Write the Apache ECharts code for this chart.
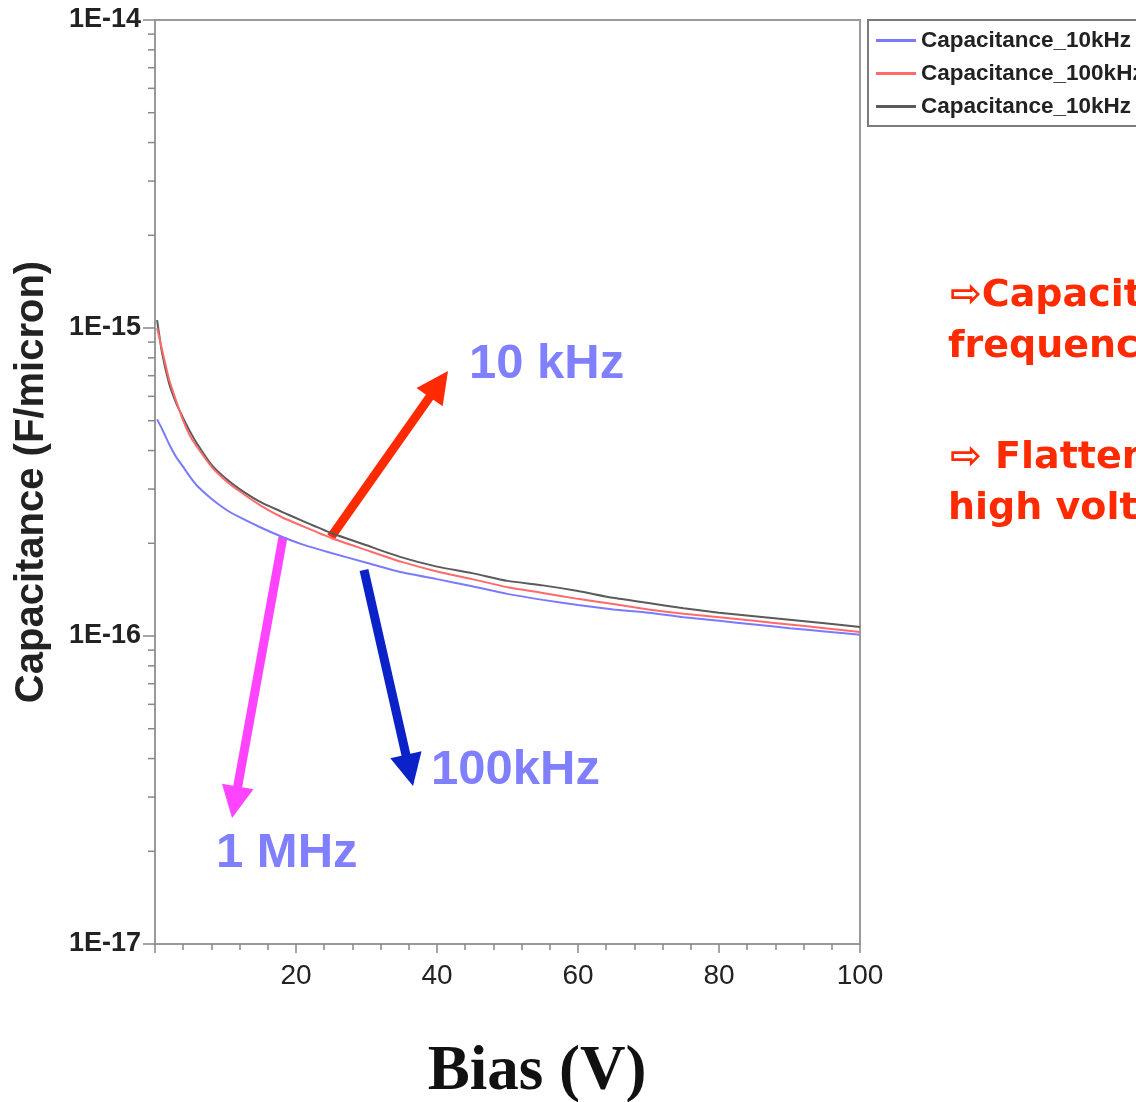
<!DOCTYPE html>
<html>
<head>
<meta charset="utf-8">
<script src="https://cdn.jsdelivr.net/npm/echarts@6/dist/echarts.min.js"></script>
<style>html,body{margin:0;padding:0;background:#fff;}#c{width:1136px;height:1102px;}</style>
</head>
<body>
<div id="c"></div>
<script>
// ---- data ----
const bias = [0.3, 1, 2, 3, 4, 5, 6, 8, 10, 12, 15, 18, 21, 25, 30, 35, 40, 45, 50, 55, 60, 65, 70, 75, 80, 85, 90, 95, 100];
const capBlue = [5.05e-16, 4.7e-16, 4.2e-16, 3.81e-16, 3.54e-16, 3.28e-16, 3.07e-16, 2.79e-16, 2.58e-16, 2.43e-16, 2.25e-16, 2.10e-16, 1.98e-16, 1.86e-16, 1.73e-16, 1.61e-16, 1.53e-16, 1.45e-16, 1.37e-16, 1.31e-16, 1.26e-16, 1.22e-16, 1.19e-16, 1.15e-16, 1.12e-16, 1.09e-16, 1.06e-16, 1.035e-16, 1.01e-16];
const capRed = [1.0e-15, 8.5e-16, 6.8e-16, 5.8e-16, 5.0e-16, 4.45e-16, 4.1e-16, 3.55e-16, 3.2e-16, 2.95e-16, 2.65e-16, 2.43e-16, 2.27e-16, 2.08e-16, 1.90e-16, 1.74e-16, 1.62e-16, 1.53e-16, 1.44e-16, 1.38e-16, 1.32e-16, 1.27e-16, 1.22e-16, 1.18e-16, 1.15e-16, 1.12e-16, 1.09e-16, 1.06e-16, 1.03e-16];
const capGray = [1.06e-15, 8.3e-16, 6.6e-16, 5.7e-16, 5.1e-16, 4.6e-16, 4.2e-16, 3.6e-16, 3.25e-16, 3.0e-16, 2.72e-16, 2.53e-16, 2.36e-16, 2.16e-16, 1.97e-16, 1.80e-16, 1.68e-16, 1.60e-16, 1.51e-16, 1.46e-16, 1.40e-16, 1.33e-16, 1.28e-16, 1.23e-16, 1.19e-16, 1.16e-16, 1.13e-16, 1.10e-16, 1.07e-16];
const seriesNames = ['Capacitance_10kHz', 'Capacitance_100kHz', 'Capacitance_10kHz\u200b'];
const yMinorTicks = [];
[1e-17, 1e-16, 1e-15].forEach(function (d) { for (let k = 2; k <= 9; k++) yMinorTicks.push(k * d); });

const chart = echarts.init(document.getElementById('c'));

function pairs(ys) { return bias.map(function (x, i) { return [x, ys[i]]; }); }

function arrow(x1, y1, x2, y2, color) {
  const dx = x2 - x1, dy = y2 - y1, L = Math.hypot(dx, dy);
  const ux = dx / L, uy = dy / L, px = -uy, py = ux;
  const hl = 32, hw = 16;
  const bx = x2 - ux * hl, by = y2 - uy * hl;
  return [
    { type: 'line', shape: { x1: x1, y1: y1, x2: bx + ux * 2, y2: by + uy * 2 }, style: { stroke: color, lineWidth: 9 } },
    { type: 'polygon', shape: { points: [[x2, y2], [bx + px * hw, by + py * hw], [bx - px * hw, by - py * hw]] }, style: { fill: color } }
  ];
}
function txt(t, x, y, size, color, family, weight, align) {
  return { type: 'text', style: { text: t, x: x, y: y, fontSize: size, fontWeight: weight || 'bold', fontFamily: family, fill: color, verticalAlign: 'middle', align: align || 'left' } };
}

const lineColors = ['#7a7aff', '#ff6a6a', '#5a5a5a'];

const option = {
  backgroundColor: '#fff',
  animation: false,
  grid: { left: 155, right: 276, top: 20, bottom: 158, show: true, borderColor: '#9a9a9a', borderWidth: 2, outerBoundsMode: 'none', containLabel: false },
  legend: {
    orient: 'vertical', left: 868, top: 20,
    padding: [9, 10, 8, 8], itemGap: 10,
    itemWidth: 40, itemHeight: 3, icon: 'rect',
    borderColor: '#7a7a7a', borderWidth: 2, backgroundColor: '#fff',
    data: seriesNames,
    formatter: function (n) { return n.replace('\u200b', ''); },
    textStyle: { fontFamily: 'Liberation Sans', fontWeight: 'bold', fontSize: 22.5, lineHeight: 22, color: '#222' }
  },
  xAxis: {
    type: 'value', min: 0, max: 100, interval: 20,
    axisLine: { lineStyle: { color: '#9a9a9a', width: 2 } },
    axisTick: { show: true, length: 9, lineStyle: { color: '#888', width: 1.5 } },
    minorTick: { show: true, splitNumber: 5, length: 6, lineStyle: { color: '#888', width: 1.5 } },
    splitLine: { show: false },
    axisLabel: { fontFamily: 'Liberation Sans', fontSize: 28, color: '#222', margin: 18, formatter: function (v) { return v === 0 ? '' : String(v); } }
  },
  yAxis: {
    type: 'log', min: 1e-17, max: 1e-14, logBase: 10,
    name: 'Capacitance (F/micron)', nameLocation: 'middle', nameGap: 103,
    nameTextStyle: { fontFamily: 'Liberation Sans', fontWeight: 'bold', fontSize: 40, color: '#222' },
    axisLine: { lineStyle: { color: '#9a9a9a', width: 2 } },
    axisTick: { show: true, length: 12, lineStyle: { color: '#888', width: 1.5 } },
    minorTick: { show: false },
    splitLine: { show: false },
    axisLabel: { fontFamily: 'Liberation Sans', fontWeight: 'bold', fontSize: 27, color: '#222', margin: 14,
      formatter: function (v) { return '1E' + Math.round(Math.log10(v)); } }
  },
  series: [
    { name: seriesNames[0], type: 'line', data: pairs(capBlue), showSymbol: false, smooth: 0.2, lineStyle: { color: lineColors[0], width: 2 }, itemStyle: { color: lineColors[0] }, z: 3 },
    { name: seriesNames[1], type: 'line', data: pairs(capRed), showSymbol: false, smooth: 0.2, lineStyle: { color: lineColors[1], width: 2 }, itemStyle: { color: lineColors[1] }, z: 3 },
    { name: seriesNames[2], type: 'line', data: pairs(capGray), showSymbol: false, smooth: 0.2, lineStyle: { color: lineColors[2], width: 2 }, itemStyle: { color: lineColors[2] }, z: 2 },
    { name: 'yMinor', type: 'custom', silent: true, clip: false,
      data: yMinorTicks.map(function (v) { return [0, v]; }),
      renderItem: function (params, api) {
        const p = api.coord([0, api.value(1)]);
        return { type: 'line', shape: { x1: p[0] - 7, y1: p[1], x2: p[0], y2: p[1] }, style: { stroke: '#888', lineWidth: 1.5 } };
      }
    }
  ],
  graphic: [].concat(
    arrow(331, 537, 448, 371, '#ff2a00'),
    arrow(364, 570, 413, 786, '#0a22c8'),
    arrow(283, 537, 232, 818, '#ff44ff'),
    [
      txt('10 kHz', 469, 364, 49, '#8080ff', 'Liberation Sans'),
      txt('100kHz', 431, 770, 49, '#8080ff', 'Liberation Sans'),
      txt('1 MHz', 216, 853, 49, '#8080ff', 'Liberation Sans'),
      txt('Bias (V)', 537, 1073, 63, '#111', 'Liberation Serif', 'bold', 'center'),
      txt('\u21e8Capacitance depends on', 950, 296, 38, '#ff2a00', 'DejaVu Sans'),
      txt('frequency', 948, 347, 38, '#ff2a00', 'DejaVu Sans'),
      txt('\u21e8 Flattens out at', 950, 458, 38, '#ff2a00', 'DejaVu Sans'),
      txt('high voltage', 948, 509, 38, '#ff2a00', 'DejaVu Sans')
    ]
  )
};
chart.setOption(option);
</script>
</body>
</html>
